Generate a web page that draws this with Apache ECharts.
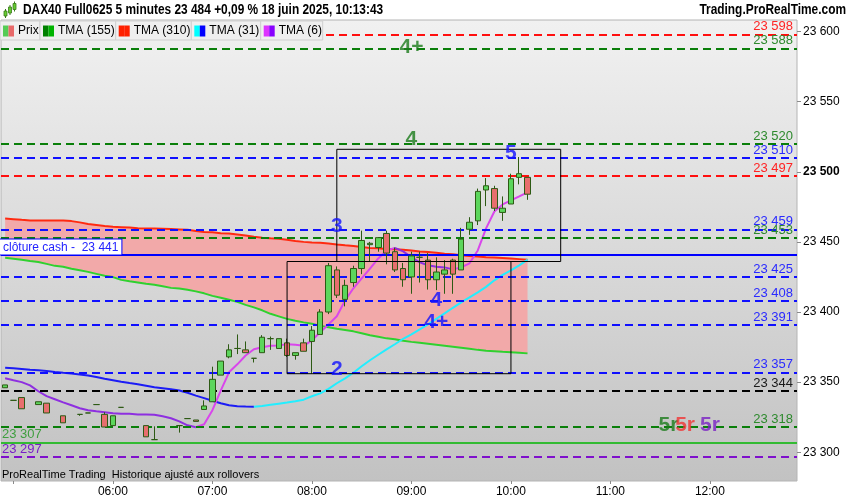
<!DOCTYPE html>
<html>
<head>
<meta charset="utf-8">
<title>DAX40 Full0625 5 minutes</title>
<script src="https://cdn.jsdelivr.net/npm/echarts@6/dist/echarts.min.js"></script>
<style>
html, body { margin: 0; padding: 0; background: #fff; }
#main { width: 850px; height: 500px; }
</style>
</head>
<body>
<div id="main"></div>
<script>
// bougies 5 minutes, une case toutes les 5 min depuis 04:55 (null = pas de bougie)
var opens  = [23346,23337,23339,null,23334,23335,null,23326,null,23327,23328,23334,23327,23319,23332,null,null,23319,23309,null,null,23319,23324,23323,
              23330.5,23336,23355,23368,23374,23373,23367,23371,23381,23374,23378,23369,23378,23379,23384,23400,23430,23409,23421,23431,23448,23446,23456,23443,
              23431,23425,23439,23437,23423,23427,23437,23430,23459,23465,23487,23488,23471,23477,23496,23496];
var closes = [23348,23337,23331,null,23336,23328,null,23321,null,23327,23328,23334,23318,23326,23332,null,null,23311,23309,null,null,23319,23324,23322,
              23333,23352,23365,23373,23374,23371,23367,23382,23381,23381,23369,23371,23372,23387,23400,23433,23412,23419,23431,23451,23449,23453,23442,23430,
              23423,23440,23439,23423,23428.5,23430,23427,23452,23464,23486,23490,23474,23474,23495,23498.6,23484];
var lows   = [23346,23337,23331,null,23334,23328,null,23321,null,23326,23328,23334,23318,23319,23332,null,null,23311,23309,null,null,23314,23324,23322,
              23330.5,23336,23355,23367,23370,23371,23364,23371,23373,23374,23368,23366,23372,23356,23384,23398.5,23410,23404,23418,23427,23436,23443,23434,23428.5,
              23418,23413,23421,23416,23415.6,23413,23413,23430,23455,23462,23475.5,23472,23465,23477,23491,23480];
var highs  = [23348,23337,23339,null,23336,23335,null,23326,null,23327,23328,23334,23328.5,23326,23332,null,null,23319,23318.5,null,null,23319,23324,23323,
              23337,23361,23365,23377,23384,23379,23367,23383.5,23382.5,23381,23381,23371,23381,23390,23402,23435,23432.5,23423,23433,23458,23450,23453,23458,23446,
              23435,23443,23443,23442,23439,23437,23438,23460,23467.6,23488,23495.5,23490,23482.4,23498.6,23510.5,23496];

// moyennes mobiles triangulaires
var tma155 = [23438.7,23438,23437.3,23436.3,23435.7,23434.3,23432.9,23432.2,23430.8,23429.7,23428.6,23427.2,23425.8,23424.9,23422.9,23421.9,
              23421.1,23420.1,23419.4,23418.3,23417.2,23416.7,23415.8,23414.7,23413.3,23411.5,23410.1,23408.7,23407.2,23405.1,23403.3,23401.2,
              23398.7,23396.9,23395.1,23393.7,23392.6,23391.6,23390.1,23389.1,23388,23387.1,23386.2,23384.8,23383.4,23382.3,23381.2,23380.5,
              23379.5,23378.7,23378,23377.3,23376.6,23375.9,23375.2,23374.5,23373.8,23373,23372.3,23372,23371.6,23371.3,23370.9,23370.5];
var tma310 = [23466.7,23466.2,23465.7,23465.3,23465.3,23465.3,23465.3,23465.3,23464.8,23463.9,23462.8,23462.1,23461.4,23460.8,23460.5,23460.2,
              23459.8,23459.6,23459.5,23459.4,23459.2,23458.9,23458.6,23457.8,23457.1,23456.8,23456.2,23455.9,23455.3,23454.6,23453.6,23453,
              23452.5,23452.3,23451.5,23450.7,23450,23449.6,23449.3,23448.9,23448.2,23447.6,23447.1,23446.3,23445.7,23445.4,23445,23444.7,
              23444.3,23443.9,23443.2,23442.7,23442.2,23441.6,23441.1,23440.4,23439.9,23439.5,23439.1,23438.8,23438.5,23438.1,23437.7,23437.3];
var tma31  = [23360.2,23359.9,23359.4,23358.8,23358.4,23357.9,23357.2,23356.6,23356.1,23355.4,23354.7,23353.6,23352.4,23351.3,23350.2,23349.3,
              23348.5,23347.4,23346.3,23345.6,23344.9,23344,23342.4,23340.4,23338.6,23336.7,23334.9,23333.5,23332.8,23332.6,23332.5,23333,
              23333.8,23334.6,23335.4,23336.3,23337.5,23339.9,23342,23345.2,23349.2,23352.7,23356.7,23361.3,23365.6,23369.5,23373.4,23377,
              23380.9,23384.1,23387.6,23391.2,23395.1,23399,23403,23406.9,23410.4,23414,23417.9,23422.6,23426.5,23429.7,23433.3,23437.3];
var tma6   = [23352.7,23351.3,23350,23347.7,23343.5,23340,23337.8,23335.6,23333.5,23331.4,23330,23329.2,23328.5,23327.8,23327.4,23327.4,
              23327,23327,23326.7,23325.6,23324.2,23322,23319.2,23317.8,23320,23330,23344,23357,23362.7,23369,23373.4,23374.8,
              23375.9,23376.2,23377,23376.6,23375.9,23379.8,23385.5,23391.2,23397,23408.3,23416.9,23424,23431,23438.2,23443.9,23445.7,
              23443.2,23439,23435.4,23433.3,23432.3,23431.8,23430.4,23431.8,23434.7,23443.9,23459.6,23471.7,23476.7,23479.6,23482.4,23485.3];
// indices où la pente change (baisse / hausse)
var tma31Turns = [30];
var tma6Turns  = [23, 47, 54];

// niveaux horizontaux (r rouge, g vert, b bleu, k noir)
var levelValues = [23598, 23588, 23520, 23510, 23497, 23459, 23453, 23425, 23408, 23391, 23357, 23344, 23318];
var levelKinds  = ['r',   'g',   'g',   'b',   'r',   'b',   'g',   'b',   'b',   'b',   'b',   'k',   'g'];
var cashClose = 23441;
var greenLow = 23307;
var purpleLow = 23297;
var lastPrice = 23484;

// rectangles
var boxFrom = ['07:45', '08:15'];
var boxTo   = ['10:00', '10:30'];
var boxLow  = [23356, 23436];
var boxHigh = [23436, 23516];

// textes de vagues
var waveTexts  = ['4+', '4', '5', '3', '2', '4', '4+', '5r', '5r', '5r'];
var waveTimes  = ['09:00', '09:00', '10:00', '08:15', '08:15', '09:15', '09:15', '11:35', '11:45', '12:00'];
var wavePrices = [23588.6, 23523.4, 23513.2, 23461.3, 23359.4, 23408.6, 23393, 23319.6, 23319.6, 23319.6];
var waveKinds  = ['g', 'g', 'b', 'b', 'b', 'b', 'b', 'g', 'r', 'p'];

function pad(n) { return (n < 10 ? '0' : '') + n; }
var slots = [];
for (var m = 4 * 60 + 55; m <= 12 * 60 + 50; m += 5) {
    slots.push(pad(Math.floor(m / 60)) + ':' + pad(m % 60));
}
function fmt(v) {
    return String(Math.round(v)).replace(/\B(?=(\d{3})+(?!\d))/g, ' ');
}
// découpe une série en deux couleurs alternées selon les points de retournement
function split(values, turns, part) {
    return values.map(function (v, i) {
        var seg = 0;
        turns.forEach(function (t) { if (i > t) seg++; });
        var onTurn = turns.indexOf(i) >= 0;
        return (seg % 2 === part || onTurn) ? v : '-';
    });
}

var FONT = '"Liberation Sans", Arial, sans-serif';
var lineColor  = { r: '#ff0f0f', g: '#0a7f0a', b: '#0f0fff', k: '#000000' };
var labelColor = { r: '#ff2424', g: '#2e8a2e', b: '#2a2aff', k: '#1a1a1a' };
var waveColor  = { g: '#1c7c1c', b: '#1212ff', r: '#f03535', p: '#7a22c4' };

var candleData = opens.map(function (o, i) {
    if (o === null) return ['-', '-', '-', '-'];
    return [o, closes[i], lows[i], highs[i]];
});
var bandDiff = tma310.map(function (v, i) { return +(v - tma155[i]).toFixed(2); });

// lignes horizontales
var marks = levelValues.map(function (v, i) {
    var k = levelKinds[i];
    return {
        yAxis: v,
        lineStyle: { color: lineColor[k], width: 2, type: [8, 5] },
        label: { show: true, position: 'insideEndTop', formatter: fmt(v), color: labelColor[k],
                 fontSize: 13, fontFamily: FONT, distance: [4, 1] }
    };
});
marks.push({
    yAxis: cashClose,
    lineStyle: { color: '#0000ff', width: 2, type: 'solid' },
    label: { show: true, position: 'insideStartTop', formatter: 'clôture cash -  ' + fmt(cashClose),
             color: '#2323ff', fontSize: 12, fontFamily: FONT, backgroundColor: '#ffffff',
             borderColor: '#0000ff', borderWidth: 1, padding: [2, 3, 1, 3], distance: [-1, 0] }
});
marks.push({
    yAxis: greenLow,
    lineStyle: { color: '#33bb33', width: 2, type: 'solid' },
    label: { show: true, position: 'insideStartTop', formatter: fmt(greenLow), color: '#3f9f3f',
             fontSize: 13, fontFamily: FONT, distance: [1, 2] }
});
marks.push({
    yAxis: purpleLow,
    lineStyle: { color: '#7f10cc', width: 2, type: [8, 5] },
    label: { show: true, position: 'insideStartTop', formatter: fmt(purpleLow), color: '#7a1ec8',
             fontSize: 13, fontFamily: FONT, distance: [1, 1] }
});
marks.push({
    yAxis: purpleLow,
    lineStyle: { opacity: 0 },
    label: { show: true, position: 'insideEndTop', formatter: fmt(purpleLow), color: '#ff1f1f',
             fontSize: 13, fontFamily: FONT, distance: [4, 1] }
});
marks.push({
    yAxis: lastPrice,
    lineStyle: { opacity: 0 },
    label: { show: true, position: 'end', formatter: fmt(lastPrice), color: '#000', fontSize: 12,
             fontFamily: FONT, backgroundColor: '#f7c31a', borderColor: '#8c8c8c', borderWidth: 1,
             padding: [2, 2, 1, 2], distance: 4 }
});

// légende et en-tête
var legendItems = [
    { x0: 0,     x1: 40,    c: ['#55cc55', '#e86a6a'], t: 'Prix' },
    { x0: 40,    x1: 115.7, c: ['#008000', '#00b400'], t: 'TMA (155)' },
    { x0: 115.7, x1: 191.3, c: ['#ff2000', '#ff2000'], t: 'TMA (310)' },
    { x0: 191.3, x1: 260.7, c: ['#00ffff', '#0000ff'], t: 'TMA (31)' },
    { x0: 260.7, x1: 322.7, c: ['#dd33ff', '#8800ff'], t: 'TMA (6)' }
];
var graphics = [];
legendItems.forEach(function (it) {
    graphics.push({ type: 'rect', z: 100, shape: { x: it.x0, y: 21, width: it.x1 - it.x0, height: 19 },
                    style: { fill: '#efefef', stroke: '#cfcfcf', lineWidth: 1 } });
    graphics.push({ type: 'rect', z: 101, shape: { x: it.x0 + 3, y: 25.5, width: 5.5, height: 11 }, style: { fill: it.c[0] } });
    graphics.push({ type: 'rect', z: 101, shape: { x: it.x0 + 8.5, y: 25.5, width: 5.5, height: 11 }, style: { fill: it.c[1] } });
    graphics.push({ type: 'text', z: 101, x: it.x0 + 18, y: 31,
                    style: { text: it.t, font: '12px ' + FONT, fill: '#000', verticalAlign: 'middle' } });
});
// petite icône de bougies
[[4, 11, 5], [8.5, 7, 6], [13, 3.5, 6]].forEach(function (c) {
    graphics.push({ type: 'rect', z: 101, shape: { x: c[0] + 1, y: c[1] - 2, width: 1, height: c[2] + 4 }, style: { fill: '#3a7a1a' } });
    graphics.push({ type: 'rect', z: 102, shape: { x: c[0], y: c[1], width: 3, height: c[2] },
                    style: { fill: '#66cc33', stroke: '#3a7a1a', lineWidth: 0.8 } });
});
graphics.push({ type: 'text', z: 101, x: 23, y: 10.5, scaleX: 0.85,
                style: { text: 'DAX40 Full0625 5 minutes 23 484 +0,09 % 18 juin 2025, 10:13:43',
                         font: 'bold 14px ' + FONT, fill: '#000', verticalAlign: 'middle' } });
graphics.push({ type: 'text', z: 101, x: 846, y: 10.5, scaleX: 0.85,
                style: { text: 'Trading.ProRealTime.com', font: 'bold 14px ' + FONT, fill: '#000',
                         align: 'right', verticalAlign: 'middle' } });
graphics.push({ type: 'text', z: 101, x: 2, y: 475,
                style: { text: 'ProRealTime Trading  Historique ajusté aux rollovers', font: '11px ' + FONT,
                         fill: '#000', verticalAlign: 'middle' } });

var option = {
    animation: false,
    backgroundColor: '#ffffff',
    textStyle: { fontFamily: FONT },
    graphic: graphics,
    grid: [
        // grille des données, plus grande que la zone visible pour garder des graduations rondes
        { left: 1, right: 53, top: -38.625, bottom: -22.375, outerBoundsMode: 'none', containLabel: false },
        // zone visible : fond et axe du temps
        { left: 1, right: 53, top: 20, bottom: 19, outerBoundsMode: 'none', containLabel: false,
          show: true, borderColor: '#b4b4b4', borderWidth: 1,
          backgroundColor: { type: 'linear', x: 0, y: 0, x2: 0, y2: 1,
                             colorStops: [{ offset: 0, color: '#f1f1f1' }, { offset: 1, color: '#c2c2c2' }] } }
    ],
    xAxis: [
        { type: 'category', gridIndex: 0, data: slots, show: false },
        { type: 'category', gridIndex: 1, data: slots,
          axisLine: { show: false },
          axisTick: { show: true, alignWithLabel: true, length: 3, lineStyle: { color: '#8a8a8a' },
                      interval: function (i, v) { return v.slice(3) === '00'; } },
          axisLabel: { color: '#000', fontSize: 12, margin: 5,
                       interval: function (i, v) { return v.slice(3) === '00' && v !== '05:00'; } } }
    ],
    yAxis: [
        { type: 'value', gridIndex: 0, position: 'right', min: 23250, max: 23650, interval: 50,
          axisLine: { show: false }, splitLine: { show: false },
          axisTick: { show: true, length: 4, lineStyle: { color: '#8a8a8a' } },
          axisLabel: { margin: 6, fontSize: 12, color: '#000',
                       formatter: function (v) { return v === 23500 ? '{b|' + fmt(v) + '}' : fmt(v); },
                       rich: { b: { fontWeight: 'bold', fontSize: 12, color: '#000' } } } },
        { type: 'value', gridIndex: 1, show: false }
    ],
    series: [
        { name: 'base', type: 'line', data: tma155, stack: 'band', symbol: 'none', silent: true, z: 1,
          lineStyle: { opacity: 0 } },
        { name: 'bande', type: 'line', data: bandDiff, stack: 'band', symbol: 'none', silent: true, z: 1,
          lineStyle: { opacity: 0 }, areaStyle: { color: '#f2a9a9', opacity: 1 } },
        { name: 'niveaux', type: 'line', data: [], z: 2, silent: true,
          markLine: { symbol: ['none', 'none'], silent: true, animation: false, data: marks } },
        { name: 'TMA (155)', type: 'line', data: tma155, symbol: 'none', z: 3,
          lineStyle: { color: '#2fd12f', width: 2 } },
        { name: 'TMA (310)', type: 'line', data: tma310, symbol: 'none', z: 3,
          lineStyle: { color: '#ff2a10', width: 2 } },
        { name: 'TMA (31) baisse', type: 'line', data: split(tma31, tma31Turns, 0), symbol: 'none', z: 3,
          lineStyle: { color: '#1c1cf5', width: 2 } },
        { name: 'TMA (31) hausse', type: 'line', data: split(tma31, tma31Turns, 1), symbol: 'none', z: 3,
          lineStyle: { color: '#22eeff', width: 2 } },
        { name: 'TMA (6) baisse', type: 'line', data: split(tma6, tma6Turns, 0), symbol: 'none', z: 3,
          lineStyle: { color: '#8e2fe0', width: 2 } },
        { name: 'TMA (6) hausse', type: 'line', data: split(tma6, tma6Turns, 1), symbol: 'none', z: 3,
          lineStyle: { color: '#d946ec', width: 2 } },
        { name: 'Prix', type: 'candlestick', data: candleData, barWidth: 6, z: 5,
          itemStyle: { color: '#5cd65c', color0: '#e86e6e', borderColor: '#2d5a14', borderColor0: '#2d5a14', borderWidth: 1 },
          markArea: { silent: true, z: 6,
                      itemStyle: { color: 'rgba(0,0,0,0)', borderColor: '#000', borderWidth: 1 },
                      data: boxFrom.map(function (f, i) {
                          return [{ xAxis: f, yAxis: boxHigh[i] }, { xAxis: boxTo[i], yAxis: boxLow[i] }];
                      }) } },
        { name: 'vagues', type: 'scatter', symbolSize: 10, z: 8, silent: true,
          itemStyle: { color: 'rgba(0,0,0,0)' },
          data: waveTexts.map(function (t, i) {
              return { value: [waveTimes[i], wavePrices[i]], label: { color: waveColor[waveKinds[i]] } };
          }),
          label: { show: true, position: 'inside', fontSize: 21, fontWeight: 'bold', fontFamily: FONT,
                   formatter: function (p) { return waveTexts[p.dataIndex]; } } }
    ]
};

var chart = echarts.init(document.getElementById('main'));
chart.setOption(option);
</script>
</body>
</html>
